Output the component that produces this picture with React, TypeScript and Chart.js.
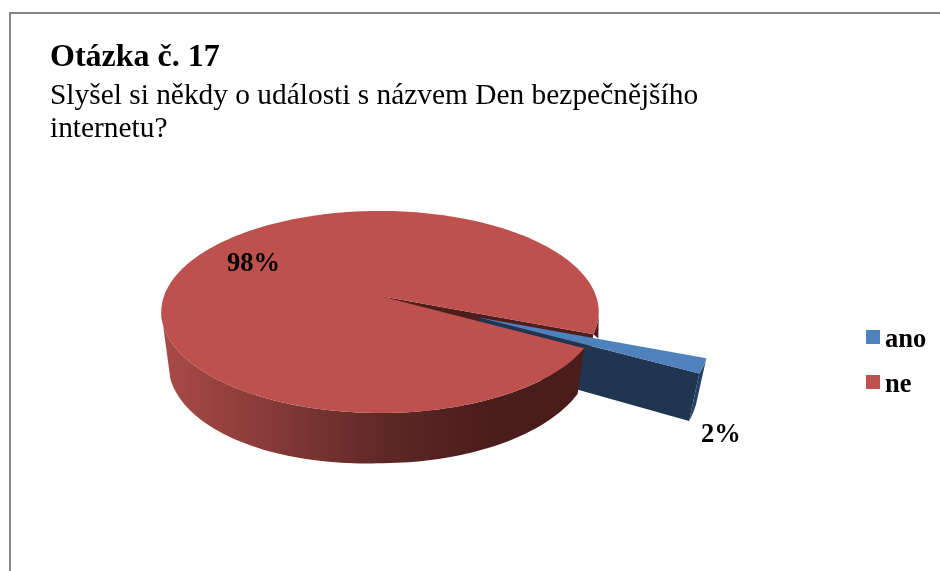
import { useEffect, useRef } from "react";
import { Chart, registerables } from "chart.js";

Chart.register(...registerables);

const categories = ["ano", "ne"];
const values = [2.2, 97.8];
const valueLabels = ["2%", "98%"];
const titleText = "Otázka č. 17";
const subtitleLines = ["Slyšel si někdy o události s názvem Den bezpečnějšího", "internetu?"];
const explode = [0.49, 0];

const TOP_COLORS = ["#4F81BD", "#BE504D"];
const SERIF = '"Liberation Serif", "Times New Roman", serif';

const CX = 380, K = 0.158, A = 216, B = 98.5, Y_TOP = 296, Y_BOT = 338, SX_BOT = 0.968, SY_BOT = 1.07, LEFT_SAG = 9;

type P = [number, number];
const project = (u: number, v: number, bottom: boolean): P => {
  const w = 1 - K * v;
  return bottom
    ? [CX + (SX_BOT * A * u) / w, Y_BOT + (SY_BOT * B * v) / w + LEFT_SAG * Math.max(0, -u)]
    : [CX + (A * u) / w, Y_TOP + (B * v) / w];
};
const rim = (a0: number, a1: number, ox: number, oy: number, bottom: boolean): P[] => {
  const n = Math.max(2, Math.ceil(Math.abs(a1 - a0) * 40));
  const out: P[] = [];
  for (let i = 0; i <= n; i++) {
    const a = a0 + ((a1 - a0) * i) / n;
    out.push(project(ox + Math.cos(a), oy + Math.sin(a), bottom));
  }
  return out;
};
const fillPoly = (ctx: CanvasRenderingContext2D, pts: P[], fill: string | CanvasGradient) => {
  ctx.beginPath();
  pts.forEach((p, i) => (i ? ctx.lineTo(p[0], p[1]) : ctx.moveTo(p[0], p[1])));
  ctx.closePath();
  ctx.fillStyle = fill;
  ctx.fill();
};
const DEG = Math.PI / 180;

const pie3d = {
  id: "pie3d",
  beforeDraw(chart: any) {
    const ctx: CanvasRenderingContext2D = chart.ctx;
    ctx.save();
    ctx.fillStyle = "#868686";
    ctx.fillRect(9, 12, 931, 2);
    ctx.fillRect(9, 12, 2, 559);
    ctx.restore();
  },
  beforeDatasetsDraw(chart: any) {
    const ctx: CanvasRenderingContext2D = chart.ctx;
    const arcs = chart.getDatasetMeta(0).data;
    const blue = arcs[0];
    const red = arcs[1];
    const bMid = (blue.startAngle + blue.endAngle) / 2;
    const bx = explode[0] * Math.cos(bMid);
    const by = explode[0] * Math.sin(bMid);
    ctx.save();

    // gap wall of the large slice and the sliver of rim wall on its right
    const rEnd = red.endAngle;
    const rStart = red.startAngle;
    const edge = [project(0, 0, false), project(Math.cos(rEnd), Math.sin(rEnd), false), project(Math.cos(rEnd), Math.sin(rEnd), true), project(0, 0, true)] as P[];
    fillPoly(ctx, edge, "#4E1E1C");
    fillPoly(ctx, [...rim(rEnd - 0.22, rEnd, 0, 0, false), project(Math.cos(rEnd) + 0.015, Math.sin(rEnd) + 0.04, false)], "#4A1C1B");

    // walls of the exploded slice
    const bApexT = project(bx, by, false);
    const bApexB = project(bx, by, true);
    const eAng = blue.endAngle;
    const sAng = blue.startAngle;
    fillPoly(ctx, [bApexT, project(bx + Math.cos(eAng), by + Math.sin(eAng), false), project(bx + Math.cos(eAng), by + Math.sin(eAng), true), bApexB], "#1F3550");
    fillPoly(ctx, [...rim(sAng, eAng, bx, by, false), ...rim(sAng, eAng, bx, by, true).reverse()], "#254264");

    // front rim wall of the large slice, ending on the straight silhouette at the left
    const grad = ctx.createLinearGradient(161, 0, 490, 0);
    grad.addColorStop(0, "#A94B48");
    grad.addColorStop(0.3, "#8A3B39");
    grad.addColorStop(0.68, "#5E2826");
    grad.addColorStop(1, "#4A1C1B");
    const wallTop = rim(rStart, 171 * DEG, 0, 0, false);
    const wallBot = rim(rStart, 163 * DEG, 0, 0, true).reverse();
    fillPoly(ctx, [...wallTop, ...wallBot], grad);

    // top faces
    fillPoly(ctx, [project(0, 0, false), ...rim(rStart, rEnd, 0, 0, false)], TOP_COLORS[1]);
    fillPoly(ctx, [bApexT, ...rim(sAng, eAng, bx, by, false)], TOP_COLORS[0]);

    // value labels
    ctx.fillStyle = "#000";
    ctx.font = `bold 26.5px ${SERIF}`;
    ctx.textBaseline = "alphabetic";
    ctx.textAlign = "left";
    ctx.fillText(valueLabels[0], 701, 442);
    ctx.fillText(valueLabels[1], 227, 271);

    // legend
    categories.forEach((c, i) => {
      const y = 330 + i * 45;
      ctx.fillStyle = TOP_COLORS[i];
      ctx.fillRect(866, y, 14, 14);
      ctx.fillStyle = "#000";
      ctx.fillText(c, 885, y + 17);
    });
    ctx.restore();
    return false;
  },
};

export default function App() {
  const ref = useRef<HTMLCanvasElement>(null);
  useEffect(() => {
    document.body.style.margin = "0";
    const chart = new Chart(ref.current!, {
      type: "pie",
      data: {
        labels: categories,
        datasets: [{ data: values, backgroundColor: TOP_COLORS, borderWidth: 0 }],
      },
      options: {
        animation: false,
        responsive: false,
        rotation: 111.4,
        layout: { padding: { left: 50, top: 40 } },
        plugins: {
          legend: { display: false },
          tooltip: { enabled: false },
          title: {
            display: true,
            text: titleText,
            align: "start",
            color: "#000",
            font: { family: SERIF, size: 32, weight: "bold", lineHeight: 1.1 },
            padding: { top: 0, bottom: 5 },
          },
          subtitle: {
            display: true,
            text: subtitleLines,
            align: "start",
            color: "#000",
            font: { family: SERIF, size: 29.4, weight: "normal", lineHeight: 1.122 },
            padding: { top: 0, bottom: 0 },
          },
        },
      },
      plugins: [pie3d],
    } as any);
    return () => chart.destroy();
  }, []);
  return <canvas ref={ref} width={940} height={571} style={{ display: "block" }} />;
}
